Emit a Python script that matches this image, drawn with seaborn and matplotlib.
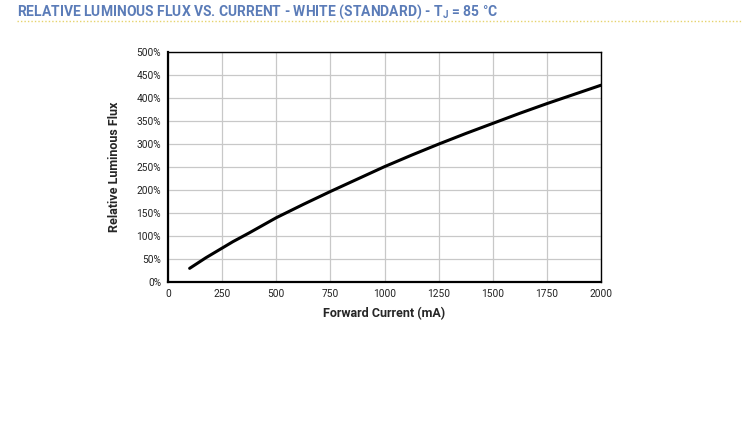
import matplotlib
matplotlib.use("Agg")
import matplotlib.pyplot as plt
import seaborn as sns
import pandas as pd
from matplotlib.ticker import FuncFormatter
from matplotlib.lines import Line2D

# values
current_ma = [100, 175, 250, 300, 375, 500, 625, 750, 875, 1000, 1125, 1250,
              1375, 1500, 1625, 1750, 1875, 2000]
rel_flux = [29, 52, 73, 87, 106, 139, 168, 196, 223, 250, 275, 299,
            322, 344, 366, 387, 407, 427]

x_ticks = [0, 250, 500, 750, 1000, 1250, 1500, 1750, 2000]
y_ticks = [0, 50, 100, 150, 200, 250, 300, 350, 400, 450, 500]

df = pd.DataFrame({"current": current_ma, "flux": rel_flux})

sns.set_style("white")
plt.rcParams["font.family"] = ["Roboto", "DejaVu Sans"]

fig = plt.figure(figsize=(7.42, 4.45), dpi=100)
ax = fig.add_axes([0.2264, 0.367, 0.5836, 0.517])

sns.lineplot(data=df, x="current", y="flux", color="black", linewidth=2.2, ax=ax)

ax.set_xlim(0, 2000)
ax.set_ylim(0, 500)
ax.set_xticks(x_ticks)
ax.set_yticks(y_ticks)
ax.yaxis.set_major_formatter(FuncFormatter(lambda v, p: f"{v:.0f}%"))
ax.grid(True, color="#c8c8c8", linewidth=0.9)
ax.set_axisbelow(True)
for s in ax.spines.values():
    s.set_color("black")
    s.set_linewidth(1.0)
ax.spines["left"].set_linewidth(1.6)
ax.spines["bottom"].set_linewidth(1.6)
ax.tick_params(axis="both", labelsize=7.3, colors="#222222", length=3, width=0.8, pad=2)
ax.tick_params(axis="both", color="black")

ax.set_xlabel("Forward Current (mA)", fontsize=9, fontweight="bold", labelpad=6)
ax.set_ylabel("Relative Luminous Flux", fontsize=9, fontweight="bold", labelpad=11)

fig.text(0.023, 0.973, r"RELATIVE LUMINOUS FLUX VS. CURRENT - WHITE (STANDARD) - T$_\mathregular{J}$ = 85 °C",
         fontsize=10, fontweight="bold", color="#5b7cb8", va="center", ha="left",
         fontstretch="condensed")
fig.add_artist(Line2D([0.023, 1.0], [0.953, 0.953], transform=fig.transFigure,
                      color="#e6d36c", linewidth=1.0, linestyle=(0, (1, 1.5))))

fig.savefig("out.png", dpi=100)
